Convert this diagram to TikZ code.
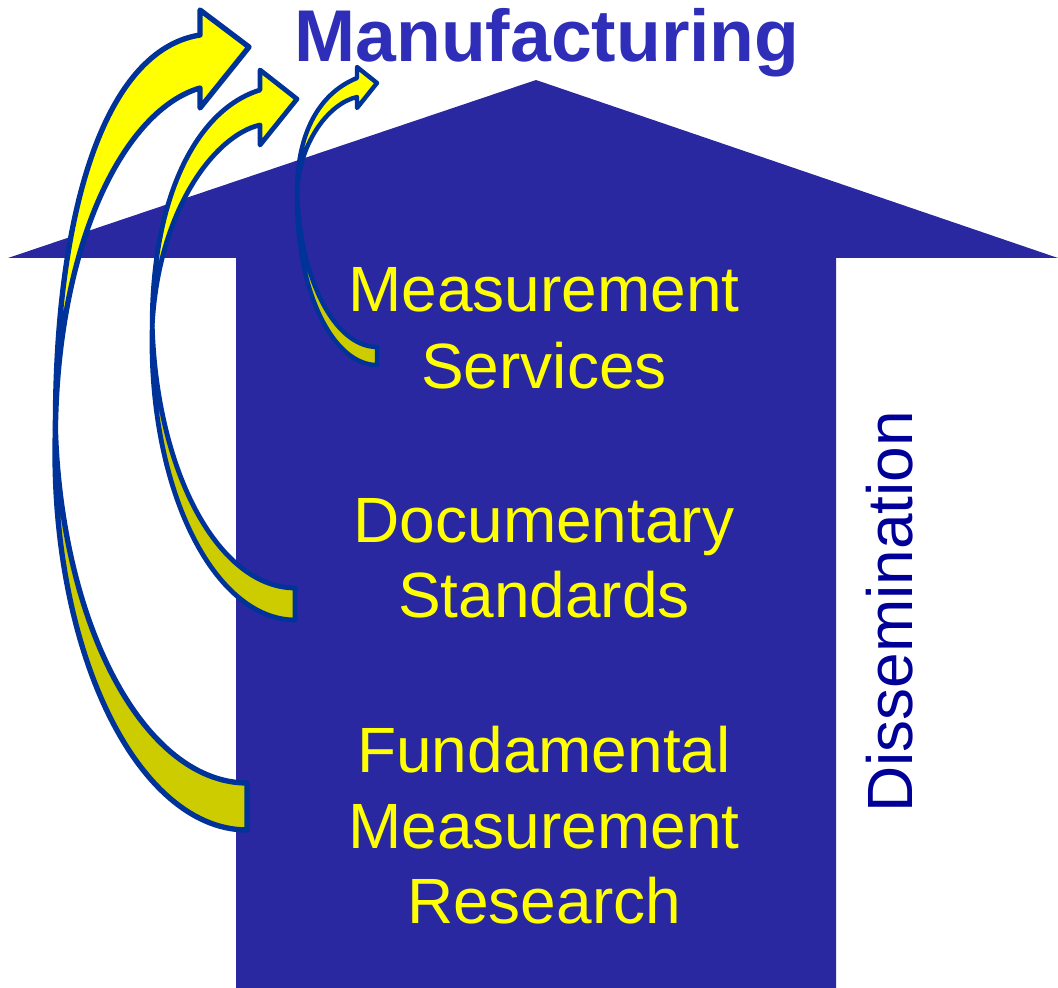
\documentclass[tikz,border=0pt]{standalone}
\usepackage{fontspec}
\setmainfont{Liberation Sans}
\definecolor{housecol}{RGB}{41,40,160}
\definecolor{manucol}{RGB}{46,46,184}
\definecolor{dissemcol}{RGB}{0,0,153}
\definecolor{arrowblue}{RGB}{0,51,153}
\definecolor{frontyel}{RGB}{255,255,0}
\definecolor{backyel}{RGB}{204,204,0}
\tikzset{
  arrowline/.style={draw=arrowblue, line width=3.6pt, line join=round},
  backface/.style={arrowline, fill=backyel},
  frontface/.style={arrowline, fill=frontyel},
  bodytext/.style={text=frontyel, font=\fontsize{48}{57}\selectfont, inner sep=0pt, anchor=base},
}
\begin{document}
\begin{tikzpicture}[x=0.75pt,y=-0.75pt]
\useasboundingbox (0,0) rectangle (1058,988);
% house-shaped arrow
\fill[housecol] (8,258) -- (536,80) -- (1058,258) -- (836,258) -- (836,988) -- (236,988) -- (236,258) -- cycle;

% curved arrow 1 (largest)
\path[backface, line width=4pt] plot[domain=90:183.57, samples=60, variable=\t] ({247+192*cos(\t)},{453+377*sin(\t)})
  -- plot[domain=176.43:90, samples=60, variable=\t] ({247+192*cos(\t)},{406+377*sin(\t)}) -- cycle;
\path[frontface, line width=4pt] (55.4,429.5) .. controls (55,210) and (105,50) .. (200,35) -- (200,10) -- (249,47) -- (200,108) -- (200,88)
  .. controls (125,110) and (58,240) .. (55.4,429.5) -- cycle;

% curved arrow 2
\path[backface] plot[domain=90:183.30, samples=60, variable=\t] ({295+143*cos(\t)},{342+278*sin(\t)})
  -- plot[domain=176.70:90, samples=60, variable=\t] ({295+143*cos(\t)},{310+278*sin(\t)}) -- cycle;
\path[frontface] (152.2,326) .. controls (152,200) and (195,110) .. (260,90) -- (260,70) -- (297,99) -- (260,145) -- (260,125)
  .. controls (215,135) and (158,210) .. (152.2,326) -- cycle;

% curved arrow 3 (smallest)
\path[backface, line width=3.3pt] plot[domain=90:183.13, samples=60, variable=\t] ({377+80*cos(\t)},{200+165*sin(\t)})
  -- plot[domain=176.87:90, samples=60, variable=\t] ({377+80*cos(\t)},{182+165*sin(\t)}) -- cycle;
\path[frontface, line width=3.3pt] (297.1,191) .. controls (297,140) and (315,95) .. (357,78) -- (357,67) -- (377,83) -- (357,108) -- (357,97)
  .. controls (330,103) and (300,140) .. (297.1,191) -- cycle;

% texts
\node[text=manucol, font=\bfseries\fontsize{55}{60}\selectfont, inner sep=0pt, anchor=base] (manu) at (547,62) {Manufacturing};
\node[bodytext] (ms1) at (544,312) {Measurement};
\node[bodytext] (ms2) at (544,388) {Services};
\node[bodytext] (ds1) at (544,542) {Documentary};
\node[bodytext] (ds2) at (544,617) {Standards};
\node[bodytext] (fr1) at (544,772) {Fundamental};
\node[bodytext] (fr2) at (544,848) {Measurement};
\node[bodytext] (fr3) at (544,923) {Research};
\node[text=dissemcol, font=\fontsize{48}{57}\selectfont, inner sep=0pt, anchor=base, rotate=90] (dis) at (912,612) {Dissemination};
\end{tikzpicture}
\end{document}
